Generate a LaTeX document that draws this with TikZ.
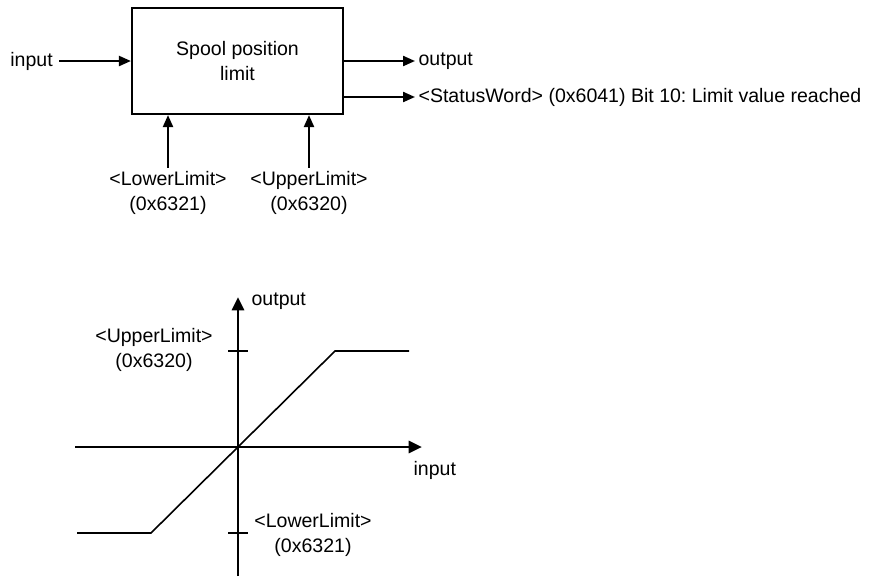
\documentclass[tikz,border=0pt]{standalone}
\usepackage{fontspec}
\setmainfont{Liberation Sans}
\usetikzlibrary{arrows.meta}
\frenchspacing
\begin{document}
\begin{tikzpicture}[x=0.75pt,y=-0.75pt,
  every node/.style={font=\fontsize{14.65}{18.5}\selectfont},
  txt/.style={inner sep=2.5pt},
  lbl/.style={inner sep=2.5pt,align=center},
  arr/.style={line width=1.6pt,-{Triangle[length=9pt,width=7.5pt]}},
  axis/.style={line width=2.2pt,-{Triangle[length=10pt,width=9pt]}},
  curve/.style={line width=1.2pt},
  tick/.style={line width=1.3pt},
  block/.style={draw,line width=1.6pt,minimum width=158.25pt,minimum height=79.5pt,inner sep=0pt,align=center}]
\useasboundingbox (0,0) rectangle (874,576);
% block diagram
\node[block] (box) at (237.5,61) {Spool position\\limit};
\node[txt,anchor=east,inner sep=4.5pt] (in) at (59,61) {input};
\node[txt,anchor=west] (out) at (415,61) {output};
\node[txt,anchor=west] (st) at (415,97) {<StatusWord> (0x6041) Bit 10:\ Limit value reached};
\node[lbl] (ll) at (168,193) {<LowerLimit>\\(0x6321)};
\node[lbl] (ul) at (309,193) {<UpperLimit>\\(0x6320)};
\draw[arr] (in.east) -- (box.west);
\draw[arr] (box.east) -- (out.west);
\draw[arr] (box.east |- st.west) -- (st.west);
\draw[arr] (ll.north) -- (ll.north |- box.south);
\draw[arr] (ul.north) -- (ul.north |- box.south);
% characteristic
\coordinate (O) at (238,447);
\coordinate (xl) at (75,447);
\coordinate (xr) at (422,447);
\coordinate (yb) at (238,576);
\coordinate (yt) at (238,297);
\draw[axis] (xl) -- (xr);
\draw[axis] (yb) -- (yt);
\coordinate (c1) at (77,533);
\coordinate (c2) at (151,533);
\coordinate (c3) at (335,351);
\coordinate (c4) at (409,351);
\draw[curve] (c1) -- (c2) -- (c3) -- (c4);
\coordinate (tu1) at (228,351);
\coordinate (tu2) at (248,351);
\coordinate (tl1) at (228,533);
\coordinate (tl2) at (248,533);
\draw[tick] (tu1) -- (tu2);
\draw[tick] (tl1) -- (tl2);
\node[txt,anchor=west] (yo) at (248,301) {output};
\node[txt,anchor=west] (xi) at (410,470) {input};
\node[lbl] (gul) at (154,350) {<UpperLimit>\\(0x6320)};
\node[lbl] (gll) at (313,535) {<LowerLimit>\\(0x6321)};
\end{tikzpicture}
\end{document}
